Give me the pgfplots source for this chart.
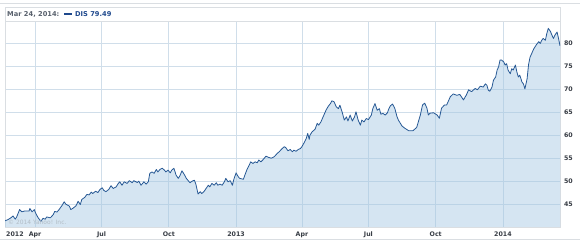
\documentclass[border=0pt]{standalone}
\usepackage{pgfplots}
\pgfplotsset{compat=1.18}
\usepackage{fontspec}
\setmainfont{DejaVu Sans}
\definecolor{linec}{RGB}{38,88,148}
\definecolor{fillc}{RGB}{162,198,226}
\definecolor{gridc}{RGB}{208,222,234}
\definecolor{framec}{RGB}{218,222,226}
\definecolor{tickc}{RGB}{55,60,68}
\definecolor{headg}{RGB}{88,96,108}
\definecolor{headb}{RGB}{30,72,140}
\definecolor{wmark}{RGB}{178,188,198}
\begin{document}
\begin{tikzpicture}
\useasboundingbox (0,0) rectangle (580bp,240bp);
\draw[framec, line width=0.8bp] (0,237bp) -- (580bp,237bp);
\draw[framec, line width=0.8bp] (0,1bp) -- (580bp,1bp);
\draw[framec, line width=0.6bp] (5bp,13bp) rectangle (560bp,233bp);
\begin{axis}[
  at={(5bp,13bp)}, anchor=south west,
  scale only axis, width=555bp, height=206bp,
  xmin=50, xmax=809, ymin=40, ymax=84.9,
  axis line style={framec, line width=0.6bp},
  xtick={91,182,274,366,456,547,639,731},
  xticklabels={Apr,Jul,Oct,2013,Apr,Jul,Oct,2014},
  ytick={45,50,55,60,65,70,75,80},
  yticklabel pos=right,
  grid=major,
  major grid style={gridc, line width=0.7bp},
  major tick length=0pt,
  tick label style={font=\fontsize{6.3}{7}\selectfont\bfseries, text=tickc},
  xticklabel style={anchor=base, yshift=-9bp},
  yticklabel style={anchor=west, xshift=0.5bp},
  /pgf/number format/assume math mode=true,
  clip=true,
]
\addplot[draw=none, fill=fillc, fill opacity=0.45] coordinates {
(50,41.35)(54,41.6)(58,42.0)(61,42.4)(64,41.7)(66,42.2)(70,43.8)(73,43.3)(77,43.5)(83,43.5)(84,44.05)(87,43.3)(90,43.8)(92,43.0)(95,42.1)(99,41.2)(102,41.9)(105,41.7)(107,42.2)(112,42.0)(116,42.7)(118,43.4)(121,43.25)(124,43.8)(128,44.7)(131,45.5)(133,45.0)(138,44.55)(140,43.8)(143,44.1)(147,44.6)(150,45.6)(153,44.9)(155,46.0)(159,46.45)(162,47.1)(165,47.0)(168,47.6)(170,47.3)(174,47.8)(177,47.5)(180,48.2)(183,48.55)(185,48.0)(188,47.7)(192,48.2)(195,49.0)(198,48.4)(202,48.75)(205,49.5)(207,49.85)(210,49.1)(213,49.85)(217,49.5)(220,50.1)(224,49.65)(226,50.1)(231,49.7)
(233,50.0)(236,49.1)(240,49.85)(243,49.35)(246,49.85)(248,51.7)(251,52.0)(254,51.7)(257,52.55)(259,52.0)(262,52.55)(265,52.8)(268,52.4)(270,52.0)(273,52.4)(276,51.8)(278,52.4)(281,52.8)(284,51.3)(287,50.6)(289,51.1)(292,52.25)(295,51.5)(298,50.6)(300,50.2)(303,49.65)(306,50.0)(309,50.2)(311,49.35)(314,47.2)(317,47.7)(319,47.3)(322,47.7)(325,48.4)(328,49.1)(330,48.75)(333,49.5)(336,49.1)(339,49.65)(341,49.1)(344,49.35)(347,49.1)(350,49.85)(352,50.6)(355,49.85)(358,50.1)(361,49.1)(363,50.4)(366,51.8)(369,50.95)(371,50.6)(376,50.4)(378,51.3)(381,52.55)(384,53.5)(386,54.2)(389,53.85)(392,54.2)(395,54.0)(397,54.6)(400,54.2)(403,54.7)(407,55.45)(410,55.2)
(414,55.0)(417,55.2)(419,55.45)(422,56.0)(425,56.4)(429,57.1)(432,57.5)(434,57.3)(437,56.6)(440,56.9)(443,56.4)(445,56.75)(448,56.5)(451,56.9)(454,57.1)(456,57.5)(459,58.35)(462,59.3)(464,60.4)(466,59.1)(467,60.0)(470,60.75)(474,61.3)(477,62.6)(479,62.2)(482,62.9)(485,64.0)(489,65.45)(492,66.3)(495,66.9)(497,67.5)(500,67.3)(503,66.2)(506,65.8)(508,66.55)(511,65.1)(514,63.3)(517,64.0)(519,63.1)(522,64.4)(525,63.1)(528,64.0)(530,65.1)(533,63.3)(536,62.2)(538,63.3)(541,62.9)(544,63.65)(547,63.4)(551,64.4)(553,65.8)(556,66.9)(559,65.45)(562,65.8)(564,64.6)(567,64.75)(570,64.4)(573,64.9)(575,65.8)(577,66.4)(580,66.8)(583,65.9)(586,64.1)(588,63.3)(593,62.0)(597,61.5)(602,61.0)(608,61.0)(613,61.7)(618,64.4)(621,66.6)(624,67.0)(627,65.9)(629,64.4)(631,64.8)(636,64.9)(641,64.4)(644,63.7)(647,65.9)(651,66.6)(654,66.6)(659,68.4)(663,69.0)(668,68.7)(672,68.9)(677,67.7)(681,68.8)(684,69.9)(688,69.5)(693,70.2)(696,69.9)(700,70.7)(704,70.5)(707,71.2)(709,70.9)(711,69.8)(713,69.6)(716,70.5)(718,72.0)(721,72.7)(723,74.2)(725,74.9)(727,76.4)(729,76.4)(732,76.0)(734,75.3)(736,75.6)(738,74.2)(741,73.4)(743,74.5)(745,74.2)(748,75.3)(750,73.8)(752,72.7)(754,73.1)(757,71.6)(759,71.2)(761,70.1)(764,72.3)(766,75.4)(768,77.0)(770,77.7)(773,78.8)(775,79.3)(777,79.8)(780,80.4)(782,80.0)(784,80.7)(786,81.1)(789,80.7)(791,82.2)(793,83.3)(796,82.6)(798,81.8)(800,81.1)(802,81.8)(805,82.5)(807,81.1)(809,79.49)
} \closedcycle;
\addplot[linec, line width=0.8bp, line join=round] coordinates {
(50,41.35)(54,41.6)(58,42.0)(61,42.4)(64,41.7)(66,42.2)(70,43.8)(73,43.3)(77,43.5)(83,43.5)(84,44.05)(87,43.3)(90,43.8)(92,43.0)(95,42.1)(99,41.2)(102,41.9)(105,41.7)(107,42.2)(112,42.0)(116,42.7)(118,43.4)(121,43.25)(124,43.8)(128,44.7)(131,45.5)(133,45.0)(138,44.55)(140,43.8)(143,44.1)(147,44.6)(150,45.6)(153,44.9)(155,46.0)(159,46.45)(162,47.1)(165,47.0)(168,47.6)(170,47.3)(174,47.8)(177,47.5)(180,48.2)(183,48.55)(185,48.0)(188,47.7)(192,48.2)(195,49.0)(198,48.4)(202,48.75)(205,49.5)(207,49.85)(210,49.1)(213,49.85)(217,49.5)(220,50.1)(224,49.65)(226,50.1)(231,49.7)
(233,50.0)(236,49.1)(240,49.85)(243,49.35)(246,49.85)(248,51.7)(251,52.0)(254,51.7)(257,52.55)(259,52.0)(262,52.55)(265,52.8)(268,52.4)(270,52.0)(273,52.4)(276,51.8)(278,52.4)(281,52.8)(284,51.3)(287,50.6)(289,51.1)(292,52.25)(295,51.5)(298,50.6)(300,50.2)(303,49.65)(306,50.0)(309,50.2)(311,49.35)(314,47.2)(317,47.7)(319,47.3)(322,47.7)(325,48.4)(328,49.1)(330,48.75)(333,49.5)(336,49.1)(339,49.65)(341,49.1)(344,49.35)(347,49.1)(350,49.85)(352,50.6)(355,49.85)(358,50.1)(361,49.1)(363,50.4)(366,51.8)(369,50.95)(371,50.6)(376,50.4)(378,51.3)(381,52.55)(384,53.5)(386,54.2)(389,53.85)(392,54.2)(395,54.0)(397,54.6)(400,54.2)(403,54.7)(407,55.45)(410,55.2)
(414,55.0)(417,55.2)(419,55.45)(422,56.0)(425,56.4)(429,57.1)(432,57.5)(434,57.3)(437,56.6)(440,56.9)(443,56.4)(445,56.75)(448,56.5)(451,56.9)(454,57.1)(456,57.5)(459,58.35)(462,59.3)(464,60.4)(466,59.1)(467,60.0)(470,60.75)(474,61.3)(477,62.6)(479,62.2)(482,62.9)(485,64.0)(489,65.45)(492,66.3)(495,66.9)(497,67.5)(500,67.3)(503,66.2)(506,65.8)(508,66.55)(511,65.1)(514,63.3)(517,64.0)(519,63.1)(522,64.4)(525,63.1)(528,64.0)(530,65.1)(533,63.3)(536,62.2)(538,63.3)(541,62.9)(544,63.65)(547,63.4)(551,64.4)(553,65.8)(556,66.9)(559,65.45)(562,65.8)(564,64.6)(567,64.75)(570,64.4)(573,64.9)(575,65.8)(577,66.4)(580,66.8)(583,65.9)(586,64.1)(588,63.3)(593,62.0)(597,61.5)(602,61.0)(608,61.0)(613,61.7)(618,64.4)(621,66.6)(624,67.0)(627,65.9)(629,64.4)(631,64.8)(636,64.9)(641,64.4)(644,63.7)(647,65.9)(651,66.6)(654,66.6)(659,68.4)(663,69.0)(668,68.7)(672,68.9)(677,67.7)(681,68.8)(684,69.9)(688,69.5)(693,70.2)(696,69.9)(700,70.7)(704,70.5)(707,71.2)(709,70.9)(711,69.8)(713,69.6)(716,70.5)(718,72.0)(721,72.7)(723,74.2)(725,74.9)(727,76.4)(729,76.4)(732,76.0)(734,75.3)(736,75.6)(738,74.2)(741,73.4)(743,74.5)(745,74.2)(748,75.3)(750,73.8)(752,72.7)(754,73.1)(757,71.6)(759,71.2)(761,70.1)(764,72.3)(766,75.4)(768,77.0)(770,77.7)(773,78.8)(775,79.3)(777,79.8)(780,80.4)(782,80.0)(784,80.7)(786,81.1)(789,80.7)(791,82.2)(793,83.3)(796,82.6)(798,81.8)(800,81.1)(802,81.8)(805,82.5)(807,81.1)(809,79.49)
};
\end{axis}
% header
\node[anchor=base west, inner sep=0pt, text=headg, font=\fontsize{6.7}{7}\selectfont\bfseries] at (7bp,223bp) {Mar 24, 2014:};
\fill[headb] (64bp,224.5bp) rectangle (72bp,227bp);
\node[anchor=base west, inner sep=0pt, text=headb, font=\fontsize{6.7}{7}\selectfont\bfseries] at (75bp,223bp) {DIS 79.49};
% first year label
\node[anchor=base west, inner sep=0pt, text=tickc, font=\fontsize{6.3}{7}\selectfont\bfseries] at (6bp,4bp) {2012};
% watermark
\node[anchor=base west, inner sep=0pt, text=wmark, font=\fontsize{6}{7}\selectfont] at (8bp,15.5bp) {© 2014 Yahoo! Inc.};
\end{tikzpicture}
\end{document}
